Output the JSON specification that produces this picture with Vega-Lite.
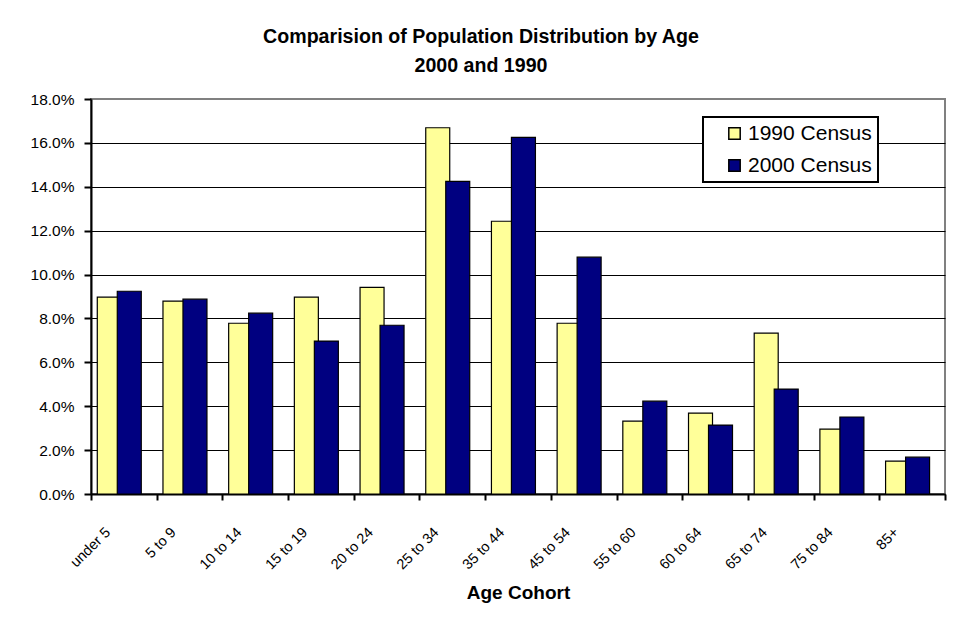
{
  "$schema": "https://vega.github.io/schema/vega-lite/v6.json",
  "autosize": {"type": "none"},
  "padding": {"left": 91, "top": 99, "right": 11, "bottom": 126},
  "width": 854,
  "height": 395,
  "background": "white",
  "config": {
    "font": "Liberation Sans",
    "view": {"stroke": "#808080", "strokeWidth": 2},
    "legend": {"strokeColor": "black", "strokeWidth": 2, "fillColor": "white"}
  },
  "title": {
    "text": ["Comparision of Population Distribution by Age", "2000 and 1990"],
    "fontSize": 19.6,
    "fontWeight": "bold",
    "font": "Liberation Sans",
    "color": "black",
    "anchor": "middle",
    "frame": "group",
    "dx": -37,
    "dy": 26,
    "lineHeight": 29.5,
    "baseline": "bottom",
    "offset": 22
  },
  "data": {
    "values": [
      {"age": "under 5", "census": "1990 Census", "share": 0.0897},
      {"age": "under 5", "census": "2000 Census", "share": 0.0924},
      {"age": "5 to 9", "census": "1990 Census", "share": 0.0879},
      {"age": "5 to 9", "census": "2000 Census", "share": 0.0888},
      {"age": "10 to 14", "census": "1990 Census", "share": 0.0778},
      {"age": "10 to 14", "census": "2000 Census", "share": 0.0824},
      {"age": "15 to 19", "census": "1990 Census", "share": 0.0897},
      {"age": "15 to 19", "census": "2000 Census", "share": 0.0697},
      {"age": "20 to 24", "census": "1990 Census", "share": 0.0942},
      {"age": "20 to 24", "census": "2000 Census", "share": 0.0769},
      {"age": "25 to 34", "census": "1990 Census", "share": 0.1669},
      {"age": "25 to 34", "census": "2000 Census", "share": 0.1425},
      {"age": "35 to 44", "census": "1990 Census", "share": 0.1243},
      {"age": "35 to 44", "census": "2000 Census", "share": 0.1625},
      {"age": "45 to 54", "census": "1990 Census", "share": 0.0778},
      {"age": "45 to 54", "census": "2000 Census", "share": 0.1079},
      {"age": "55 to 60", "census": "1990 Census", "share": 0.0332},
      {"age": "55 to 60", "census": "2000 Census", "share": 0.0423},
      {"age": "60 to 64", "census": "1990 Census", "share": 0.0369},
      {"age": "60 to 64", "census": "2000 Census", "share": 0.0314},
      {"age": "65 to 74", "census": "1990 Census", "share": 0.0733},
      {"age": "65 to 74", "census": "2000 Census", "share": 0.0478},
      {"age": "75 to 84", "census": "1990 Census", "share": 0.0296},
      {"age": "75 to 84", "census": "2000 Census", "share": 0.0351},
      {"age": "85+", "census": "1990 Census", "share": 0.0150},
      {"age": "85+", "census": "2000 Census", "share": 0.0168}
    ]
  },
  "mark": {"type": "bar", "stroke": "black", "strokeWidth": 1.2, "width": {"band": 1.2}},
  "encoding": {
    "x": {
      "field": "age",
      "type": "nominal",
      "sort": null,
      "scale": {"paddingInner": 0, "paddingOuter": 0},
      "axis": {
        "title": "Age Cohort",
        "titleFontSize": 19,
        "titleFontWeight": "bold",
        "titleColor": "black",
        "titlePadding": 12,
        "labelAngle": -45,
        "labelFontSize": 14.5,
        "labelColor": "black",
        "labelOffset": -21,
        "labelPadding": 25,
        "tickBand": "extent",
        "tickSize": 6,
        "tickWidth": 2,
        "tickColor": "black",
        "domainColor": "black",
        "domainWidth": 2,
        "grid": false
      }
    },
    "xOffset": {
      "field": "census",
      "type": "nominal",
      "sort": ["1990 Census", "2000 Census"],
      "scale": {"paddingInner": 0, "paddingOuter": 0.6425}
    },
    "y": {
      "field": "share",
      "type": "quantitative",
      "scale": {"domain": [0, 0.18], "nice": false},
      "axis": {
        "title": null,
        "format": ".1%",
        "values": [0, 0.02, 0.04, 0.06, 0.08, 0.1, 0.12, 0.14, 0.16, 0.18],
        "labelFontSize": 15.5,
        "labelColor": "black",
        "labelPadding": 10,
        "tickSize": 7,
        "tickWidth": 2,
        "tickColor": "black",
        "domainColor": "black",
        "domainWidth": 2,
        "grid": true,
        "gridColor": {"condition": {"test": "datum.value >= 0.179", "value": "#808080"}, "value": "black"},
        "gridWidth": 1,
        "gridOpacity": 1
      }
    },
    "color": {
      "field": "census",
      "type": "nominal",
      "scale": {"domain": ["1990 Census", "2000 Census"], "range": ["#FFFF99", "#000080"]},
      "legend": {
        "title": null,
        "orient": "none",
        "legendX": 612,
        "legendY": 18,
        "labelFontSize": 21,
        "labelColor": "black",
        "labelOffset": 3,
        "symbolType": "square",
        "symbolSize": 130,
        "symbolStrokeColor": "black",
        "symbolStrokeWidth": 1.5,
        "symbolOffset": 15,
        "padding": 6,
        "rowPadding": 10
      }
    }
  }
}
